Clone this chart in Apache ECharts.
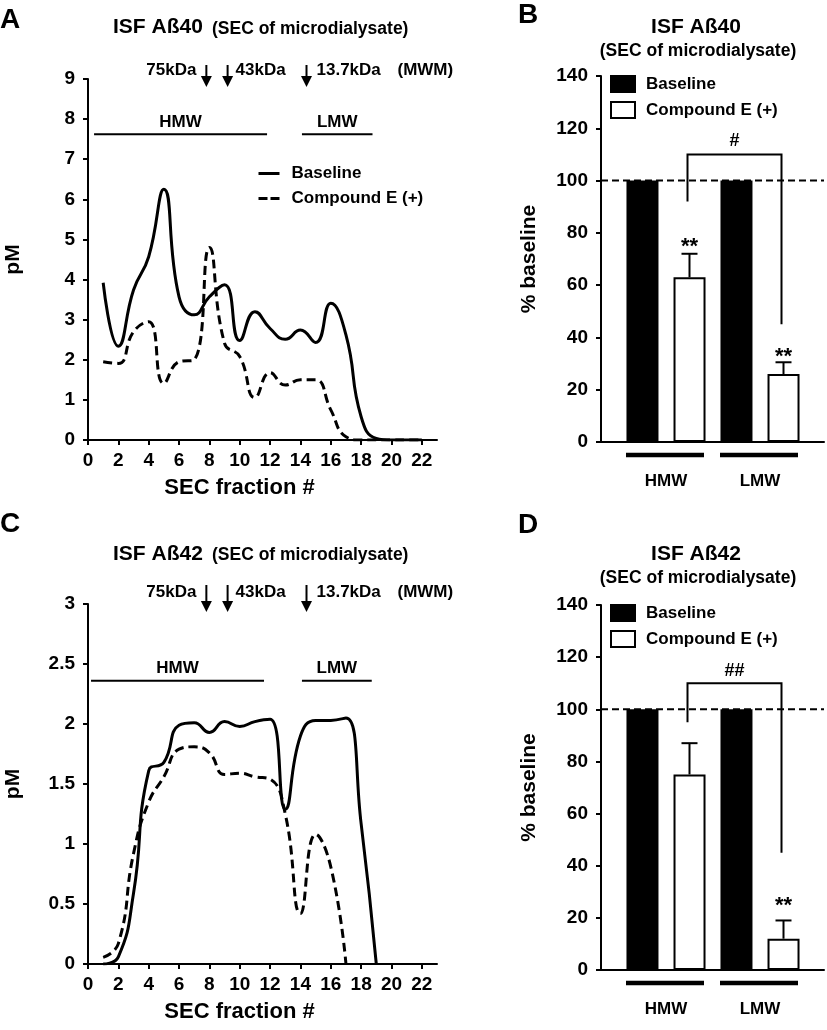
<!DOCTYPE html>
<html><head><meta charset="utf-8">
<script src="https://cdn.jsdelivr.net/npm/echarts/dist/echarts.min.js"></script>
<style>html,body{margin:0;padding:0;background:#fff}#c{width:827px;height:1030px}</style>
</head><body><div id="c"></div>
<script>
// ---------- data ----------
const fractions = [1,2,3,4,5,6,7,8,9,10,11,12,13,14,15,16,17,18,19,20,21,22];
const ab40Baseline = [3.92,2.34,3.74,4.57,6.25,3.57,3.12,3.57,3.87,2.48,3.2,2.78,2.51,2.74,2.43,3.41,2.62,0.58,0.04,0,0,0];
const ab40Compound = [1.95,1.91,2.7,2.95,1.41,1.95,2.0,4.8,2.41,2.08,1.06,1.68,1.37,1.5,1.5,0.75,0.08,0,0,0,0,0];
const ab42Baseline = [0,0.06,0.59,1.61,1.68,1.99,2.01,1.93,2.02,1.98,2.02,2.04,1.29,1.9,2.03,2.03,2.05,1.17,0,null,null,null];
const ab42Compound = [0.055,0.17,0.92,1.35,1.56,1.79,1.81,1.76,1.58,1.59,1.56,1.54,1.25,0.42,1.08,0.81,0,null,null,null,null,null];
const xTickValues = [0,2,4,6,8,10,12,14,16,18,20,22];
const mwmFractions = [7.8, 9.2, 14.4];
const mwmLabels = ['75kDa', '43kDa', '13.7kDa'];
const sizeClasses = ['HMW', 'LMW'];
const ab40PctBaseline = [100, 100];
const ab40PctCompound = [63, 26];
const ab40PctErr = [9, 4.5];
const ab42PctBaseline = [100, 100];
const ab42PctCompound = [75, 12];
const ab42PctErr = [12, 7];
const ab40Stars = ['**', '**'];
const ab42Stars = ['', '**'];
const ab40Hash = '#';
const ab42Hash = '##';

// ---------- helpers ----------
const FONT = '"Liberation Sans", Arial, sans-serif';
const pairs = (arr) => fractions.map((f, i) => [f, arr[i]]);
const axisLine = {show: true, onZero: false, lineStyle: {color: '#000', width: 2}};
const tick = {show: true, inside: false, length: 5, lineStyle: {color: '#000', width: 2}};
const lbl = (margin, size) => ({show: true, color: '#000', fontFamily: FONT, fontWeight: 'bold', fontSize: size || 19, margin: margin});
const nameTS = {color: '#000', fontFamily: FONT, fontWeight: 'bold', fontSize: 21};

function txtEl(text, x, y, size, align, va) {
  return {type: 'text', x: x, y: y, z: 100,
    style: {text: text, fill: '#000', font: 'bold ' + size + 'px ' + FONT,
      align: align || 'left', verticalAlign: va || 'middle',
      textAlign: align || 'left', textVerticalAlign: va || 'middle'}};
}

function mwmRender(cfg) {
  return function (params, api) {
    const i = params.dataIndex;
    const p = api.coord([api.value(0), cfg.yTop]);
    const x = p[0], y0 = p[1] + cfg.topOff, tip = p[1] + 8;
    const ch = [
      {type: 'line', shape: {x1: x, y1: y0, x2: x, y2: tip - 8}, style: {stroke: '#000', lineWidth: 2}},
      {type: 'polygon', shape: {points: [[x - 5.5, tip - 11], [x + 5.5, tip - 11], [x, tip]]}, style: {fill: '#000'}}
    ];
    const ty = p[1] + cfg.textOff;
    if (i === 0) ch.push(txtEl(mwmLabels[0], x - 10, ty, 17, 'right'));
    if (i === 1) ch.push(txtEl(mwmLabels[1], x + 8, ty, 17, 'left'));
    if (i === 2) {
      ch.push(txtEl(mwmLabels[2], x + 10, ty, 17, 'left'));
      ch.push(txtEl('(MWM)', x + 91, ty, 17, 'left'));
    }
    return {type: 'group', children: ch};
  };
}

function rangeRender(labels) {
  return function (params, api) {
    const p0 = api.coord([api.value(0), api.value(2)]);
    const p1 = api.coord([api.value(1), api.value(2)]);
    return {type: 'group', children: [
      {type: 'line', shape: {x1: p0[0], y1: p0[1], x2: p1[0], y2: p1[1]}, style: {stroke: '#000', lineWidth: 2}},
      txtEl(labels[params.dataIndex], (p0[0] + p1[0]) / 2, p0[1] - 12, 17, 'center')
    ]};
  };
}

function barAnnoRender(cfg) {
  return function (params, api) {
    const i = api.value(0), v = api.value(1), e = api.value(2);
    const band = api.size([1, 0])[0];
    const off = band / 4;
    const base = api.coord([i, 0]);
    const cx = base[0];
    const ch = [];
    // group underline
    ch.push({type: 'line', shape: {x1: cx - 40, y1: base[1] + 13, x2: cx + 38, y2: base[1] + 13}, style: {stroke: '#000', lineWidth: 4.5}});
    // error bar (upper)
    const pv = api.coord([i, v]), pe = api.coord([i, v + e]);
    const ex = cx + off;
    ch.push({type: 'line', shape: {x1: ex, y1: pv[1], x2: ex, y2: pe[1]}, style: {stroke: '#000', lineWidth: 2}});
    ch.push({type: 'line', shape: {x1: ex - 8, y1: pe[1], x2: ex + 8, y2: pe[1]}, style: {stroke: '#000', lineWidth: 2}});
    // stars
    if (cfg.stars[i]) ch.push(txtEl(cfg.stars[i], ex, pe[1] - cfg.starGap[i] + 5, 22, 'center'));
    // bracket
    if (i === 0) {
      const b = cfg.bracket;
      const xl = cx + off - 2;
      const xr = api.coord([1, 0])[0] + off - 2;
      const yT = api.coord([0, b.top])[1];
      const yL = api.coord([0, b.left])[1];
      const yR = api.coord([1, b.right])[1];
      ch.push({type: 'polyline', shape: {points: [[xl, yL], [xl, yT], [xr, yT], [xr, yR]]}, style: {stroke: '#000', lineWidth: 2, fill: null}});
      ch.push(txtEl(cfg.hash, (xl + xr) / 2, api.coord([0, b.label])[1], 18, 'center'));
    }
    return {type: 'group', children: ch};
  };
}

// ---------- axes ----------
function fracAxis(g) {
  return {gridIndex: g, type: 'value', min: 0, max: 23,
    axisLine: axisLine, axisTick: Object.assign({}, tick, {customValues: xTickValues}),
    axisLabel: Object.assign(lbl(11), {customValues: xTickValues}),
    splitLine: {show: false},
    name: 'SEC fraction #', nameLocation: 'middle', nameGap: 37,
    nameTextStyle: Object.assign({}, nameTS, {fontSize: 22, padding: [0, 46, 0, 0]}), nameMoveOverlap: false};
}
function plainX(g) {
  return {gridIndex: g, type: 'value', min: 0, max: 1, axisLine: axisLine,
    axisTick: {show: false}, axisLabel: {show: false}, splitLine: {show: false}};
}
function catX(g) {
  return {gridIndex: g, type: 'category', data: sizeClasses,
    axisLine: {show: false}, axisTick: {show: false}, axisLabel: lbl(31, 17), splitLine: {show: false}};
}
function yVal(g, max, interval, name, gap) {
  return {gridIndex: g, type: 'value', min: 0, max: max, interval: interval,
    axisLine: axisLine, axisTick: tick, axisLabel: lbl(13), splitLine: {show: false},
    name: name, nameLocation: 'middle', nameRotate: 90, nameGap: gap, nameTextStyle: nameTS, nameMoveOverlap: false};
}
function yHidden(g) {
  return {gridIndex: g, type: 'value', min: 0, max: 140, show: false, splitLine: {show: false}};
}

const lineSolid = {color: '#000', width: 3};
const lineDash = {color: '#000', width: 3, type: [9, 5]};

function curve(name, ax, data, style) {
  return {type: 'line', name: name, xAxisIndex: ax, yAxisIndex: ax, data: pairs(data),
    smooth: true, symbol: 'none', showSymbol: false, lineStyle: style, itemStyle: {color: '#000'},
    clip: true, z: 3, silent: true};
}
function bars(name, ax, data, fill) {
  return {type: 'bar', name: name, xAxisIndex: ax, yAxisIndex: ax, data: data,
    barWidth: 32, barGap: '47%', itemStyle: {color: fill, borderColor: '#000', borderWidth: 2}, silent: true};
}

const G = (left, top, width, height) => ({left: left, top: top, width: width, height: height, containLabel: false, outerBoundsMode: 'none'});
const hiddenSymbol = {color: 'rgba(0,0,0,0)', borderColor: 'rgba(0,0,0,0)', borderWidth: 0, opacity: 0};
const barLegendData = [
  {name: 'bar:Baseline', icon: 'rect', itemStyle: {color: '#000', borderColor: '#000', borderWidth: 2}},
  {name: 'bar:Compound E (+)', icon: 'rect', itemStyle: {color: '#fff', borderColor: '#000', borderWidth: 2}}
];
const barLegend = (top) => ({data: barLegendData, orient: 'vertical', left: 610, top: top, padding: 0,
  itemWidth: 24, itemHeight: 16, itemGap: 8, selectedMode: false,
  formatter: (n) => n.replace('bar:', ''),
  textStyle: {fontFamily: FONT, fontWeight: 'bold', fontSize: 17, color: '#000', padding: [0, 0, 0, 6]}});

const option = {
  animation: false,
  backgroundColor: '#fff',
  textStyle: {fontFamily: FONT, color: '#000'},
  grid: [
    G(88, 79, 349, 361),    // A
    G(88, 604, 349, 360),   // C
    G(601, 76, 223, 366),   // B axes
    G(619, 76, 188, 366),   // B bars
    G(601, 605, 223, 365),  // D axes
    G(619, 605, 188, 365)   // D bars
  ],
  xAxis: [fracAxis(0), fracAxis(1), plainX(2), catX(3), plainX(4), catX(5)],
  yAxis: [
    yVal(0, 9, 1, 'pM', 64),
    yVal(1, 3, 0.5, 'pM', 64),
    yVal(2, 140, 20, '% baseline', 61),
    yHidden(3),
    yVal(4, 140, 20, '% baseline', 61),
    yHidden(5)
  ],
  legend: [
    {data: [{name: 'Baseline', itemStyle: hiddenSymbol},
            {name: 'Compound E (+)', itemStyle: hiddenSymbol, lineStyle: {type: [9, 3]}}],
      orient: 'vertical', left: 257, top: 165, padding: 0,
      itemWidth: 21, itemHeight: 14, itemGap: 8, selectedMode: false,
      itemStyle: hiddenSymbol,
      lineStyle: {width: 3},
      textStyle: {fontFamily: FONT, fontWeight: 'bold', fontSize: 17, color: '#000', padding: [0, 0, 0, 7]}},
    barLegend(75),
    barLegend(604)
  ],
  graphic: [
    txtEl('A', 0, 20, 28, 'left'),
    txtEl('ISF A\u00df40', 113, 27.7, 21, 'left'),
    txtEl('(SEC of microdialysate)', 212, 29, 17.5, 'left'),
    txtEl('B', 518, 15, 28, 'left'),
    txtEl('ISF A\u00df40', 696, 27.7, 21, 'center'),
    txtEl('(SEC of microdialysate)', 698, 51.5, 17.5, 'center'),
    txtEl('C', 0, 524, 28, 'left'),
    txtEl('ISF A\u00df42', 113, 554.4, 21, 'left'),
    txtEl('(SEC of microdialysate)', 212, 555.6, 17.5, 'left'),
    txtEl('D', 518, 525, 28, 'left'),
    txtEl('ISF A\u00df42', 696, 554.4, 21, 'center'),
    txtEl('(SEC of microdialysate)', 698, 578.5, 17.5, 'center')
  ],
  series: [
    curve('Baseline', 0, ab40Baseline, lineSolid),
    curve('Compound E (+)', 0, ab40Compound, lineDash),
    curve('C Baseline', 1, ab42Baseline, lineSolid),
    curve('C Compound E (+)', 1, ab42Compound, lineDash),
    {type: 'custom', xAxisIndex: 0, yAxisIndex: 0, data: mwmFractions.map(f => [f]), silent: true,
      renderItem: mwmRender({yTop: 9, topOff: -14, textOff: -9})},
    {type: 'custom', xAxisIndex: 1, yAxisIndex: 1, data: mwmFractions.map(f => [f]), silent: true,
      renderItem: mwmRender({yTop: 3, topOff: -19, textOff: -12})},
    {type: 'custom', xAxisIndex: 0, yAxisIndex: 0, silent: true, encode: {x: [0, 1], y: 2},
      data: [[0.4, 11.8, 7.62], [14.1, 18.75, 7.62]], renderItem: rangeRender(sizeClasses)},
    {type: 'custom', xAxisIndex: 1, yAxisIndex: 1, silent: true, encode: {x: [0, 1], y: 2},
      data: [[0.2, 11.6, 2.36], [14.1, 18.7, 2.36]], renderItem: rangeRender(sizeClasses)},
    // B
    {type: 'line', xAxisIndex: 2, yAxisIndex: 2, data: [[0, 100], [1, 100]], symbol: 'none', silent: true,
      lineStyle: {color: '#000', width: 2, type: [7, 4]}},
    bars('bar:Baseline', 3, ab40PctBaseline, '#000'),
    bars('bar:Compound E (+)', 3, ab40PctCompound, '#fff'),
    {type: 'custom', xAxisIndex: 3, yAxisIndex: 3, silent: true, z: 5,
      data: sizeClasses.map((c, i) => [i, ab40PctCompound[i], ab40PctErr[i]]),
      renderItem: barAnnoRender({stars: ab40Stars, starGap: [12, 10], hash: ab40Hash,
        bracket: {top: 110, left: 92, right: 45, label: 115}})},
    // D
    {type: 'line', xAxisIndex: 4, yAxisIndex: 4, data: [[0, 100], [1, 100]], symbol: 'none', silent: true,
      lineStyle: {color: '#000', width: 2, type: [7, 4]}},
    bars('bar:Baseline', 5, ab42PctBaseline, '#000'),
    bars('bar:Compound E (+)', 5, ab42PctCompound, '#fff'),
    {type: 'custom', xAxisIndex: 5, yAxisIndex: 5, silent: true, z: 5,
      data: sizeClasses.map((c, i) => [i, ab42PctCompound[i], ab42PctErr[i]]),
      renderItem: barAnnoRender({stars: ab42Stars, starGap: [12, 20], hash: ab42Hash,
        bracket: {top: 110, left: 95, right: 45, label: 114.5}})}
  ]
};

const chart = echarts.init(document.getElementById('c'), null, {renderer: 'canvas'});
chart.setOption(option);
</script>
</body></html>
